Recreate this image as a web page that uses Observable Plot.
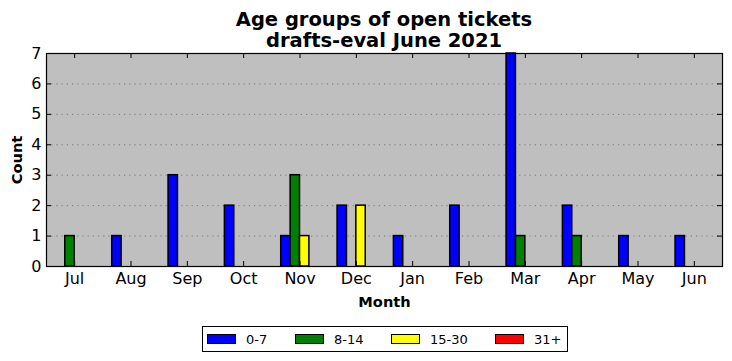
<!DOCTYPE html>
<html>
<head>
<meta charset="utf-8">
<script src="https://cdn.jsdelivr.net/npm/d3@7"></script>
<script src="https://cdn.jsdelivr.net/npm/@observablehq/plot@0.6"></script>
<style>
  body { margin: 0; background: #fff; font-family: "DejaVu Sans", sans-serif; }
  #wrap { position: relative; width: 732px; height: 361px; overflow: hidden; }
  #title { position: absolute; left: 46px; width: 676px; top: 9px; text-align: center;
           font-weight: bold; font-size: 19.5px; line-height: 21px; color: #000; }
  #chart { position: absolute; left: 0; top: 0; }
  #legend { position: absolute; left: 202px; top: 326px; width: 366px; height: 26px;
            border: 1px solid #000; box-sizing: border-box; background: #fff; font-size: 13px; }
  .item { position: absolute; top: 0; height: 24px; display: flex; align-items: center; }
  .patch { width: 29px; height: 10px; border: 1px solid #000; box-sizing: border-box; margin-right: 10px; }
</style>
</head>
<body>
<div id="wrap">
  <div id="chart"></div>
  <div id="title">Age groups of open tickets<br>drafts-eval June 2021</div>
  <div id="legend"></div>
</div>
<script>
const months = ["Jul","Aug","Sep","Oct","Nov","Dec","Jan","Feb","Mar","Apr","May","Jun"];
const series = ["0-7","8-14","15-30","31+"];
const colors = ["#0000ff","#008000","#ffff00","#ff0000"];
const age0_7   = [0,1,3,2,1,2,1,2,7,2,1,1];
const age8_14  = [1,0,0,0,3,0,0,0,1,1,0,0];
const age15_30 = [0,0,0,0,1,2,0,0,0,0,0,0];
const age31    = [0,0,0,0,0,0,0,0,0,0,0,0];
const yTicks = [0,1,2,3,4,5,6,7];

const seriesValues = [age0_7, age8_14, age15_30, age31];
const rows = [];
seriesValues.forEach((vals, k) => {
  vals.forEach((v, i) => {
    rows.push({month: i, k, series: series[k], value: v});
  });
});
const W = 1/6;
const monthIdx = months.map((m, i) => i);

const mL = 46, mR = 10, mT = 53, mB = 95, WIDTH = 732, HEIGHT = 361;
const fw = WIDTH - mL - mR, fh = HEIGHT - mT - mB;
const TL = 5;

const chart = Plot.plot({
  width: WIDTH,
  height: HEIGHT,
  marginLeft: mL,
  marginRight: mR,
  marginTop: mT,
  marginBottom: mB,
  style: {fontFamily: "DejaVu Sans, sans-serif", background: "transparent", color: "#000"},
  x: {type: "linear", domain: [-0.5, 11.5], axis: null},
  y: {domain: [0, 7], axis: null},
  color: {domain: series, range: colors},
  marks: [
    Plot.frame({fill: "#bfbfbf", stroke: null}),
    Plot.ruleY(yTicks.slice(1, -1), {stroke: "#666", strokeWidth: 0.8, strokeDasharray: "1.2,4"}),
    Plot.rectY(rows, {
      x1: d => d.month + (d.k - 2) * W,
      x2: d => d.month + (d.k - 1) * W,
      y1: 0,
      y2: "value",
      fill: "series",
      stroke: "#000",
      strokeWidth: 1.5
    }),
    // inward ticks on all four sides
    Plot.tickX(monthIdx, {x: d => d, insetTop: fh - TL, stroke: "#000"}),
    Plot.tickX(monthIdx, {x: d => d, insetBottom: fh - TL, stroke: "#000"}),
    Plot.tickY(yTicks, {y: d => d, insetRight: fw - TL, stroke: "#000"}),
    Plot.tickY(yTicks, {y: d => d, insetLeft: fw - TL, stroke: "#000"}),
    Plot.axisX(monthIdx, {anchor: "bottom", tickSize: 0, tickPadding: 6, tickFormat: i => months[i], fontSize: 16, label: null}),
    Plot.axisY(yTicks, {anchor: "left", tickSize: 0, tickPadding: 5, fontSize: 16, label: null}),
    Plot.frame({stroke: "#000", strokeWidth: 1.2}),
    Plot.text(["Month"], {frameAnchor: "bottom", lineAnchor: "middle", textAnchor: "middle", dy: 35.5, fontSize: 14.6, fontWeight: "bold"}),
    Plot.text(["Count"], {frameAnchor: "left", lineAnchor: "middle", textAnchor: "middle", dx: -29, rotate: -90, fontSize: 14.6, fontWeight: "bold"})
  ]
});
document.getElementById("chart").appendChild(chart);

const legend = document.getElementById("legend");
const itemLefts = [4, 92, 188, 292];
series.forEach((s, k) => {
  const it = document.createElement("div");
  it.className = "item";
  it.style.left = itemLefts[k] + "px";
  const p = document.createElement("div");
  p.className = "patch";
  p.style.background = colors[k];
  const t = document.createElement("span");
  t.textContent = s;
  it.appendChild(p);
  it.appendChild(t);
  legend.appendChild(it);
});
</script>
</body>
</html>
